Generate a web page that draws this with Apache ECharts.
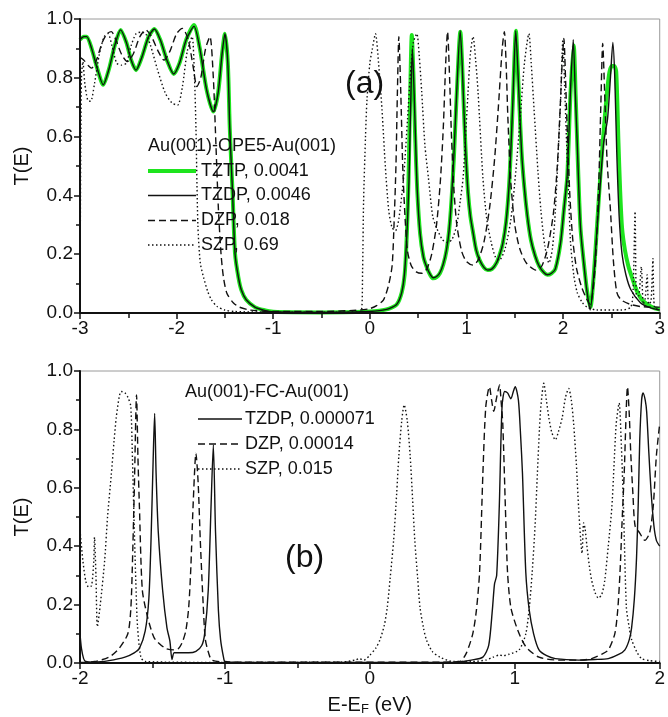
<!DOCTYPE html>
<html><head><meta charset="utf-8">
<script src="https://cdn.jsdelivr.net/npm/echarts@6/dist/echarts.min.js"></script>
<style>html,body{margin:0;padding:0;background:#fff}#c{width:668px;height:717px}</style>
</head><body><div id="c"></div>
<script>
// ---- Panel (a): Au(001)-OPE5-Au(001) ----
const aXTicks = [-3,-2,-1,0,1,2,3];
const yTicks = [0,0.2,0.4,0.6,0.8,1.0];
const aNames = ['TZTP, 0.0041','TZDP, 0.0046','DZP, 0.018','SZP, 0.69'];
const aTitle = 'Au(001)-OPE5-Au(001)';
const aTZTP = [[-3.00,0.93],[-2.96,0.94],[-2.93,0.94],[-2.88,0.90],[-2.82,0.83],[-2.76,0.776],[-2.70,0.83],[-2.64,0.91],[-2.58,0.963],[-2.52,0.92],[-2.47,0.86],[-2.42,0.826],[-2.36,0.87],[-2.29,0.94],[-2.23,0.966],[-2.17,0.93],[-2.10,0.86],[-2.03,0.813],[-1.97,0.85],[-1.90,0.93],[-1.82,0.98],[-1.76,0.90],[-1.69,0.76],[-1.62,0.685],[-1.57,0.75],[-1.53,0.88],[-1.50,0.95],[-1.47,0.85],[-1.45,0.63],[-1.42,0.40],[-1.395,0.20],[-1.36,0.12],[-1.33,0.078],[-1.28,0.045],[-1.19,0.02],[-1.10,0.01],[-1.00,0.004],[-0.5,0.002],[0,0.005],[0.10,0.008],[0.20,0.015],[0.28,0.03],[0.33,0.07],[0.36,0.13],[0.383,0.27],[0.40,0.45],[0.415,0.70],[0.434,0.946],[0.45,0.82],[0.468,0.61],[0.49,0.42],[0.52,0.27],[0.555,0.19],[0.59,0.155],[0.627,0.128],[0.657,0.118],[0.69,0.122],[0.725,0.135],[0.76,0.165],[0.794,0.214],[0.82,0.28],[0.845,0.384],[0.87,0.53],[0.896,0.724],[0.937,0.957],[0.955,0.85],[0.97,0.72],[0.99,0.56],[1.016,0.41],[1.04,0.33],[1.07,0.27],[1.10,0.215],[1.136,0.18],[1.18,0.155],[1.22,0.146],[1.265,0.15],[1.31,0.17],[1.345,0.20],[1.376,0.237],[1.41,0.31],[1.44,0.43],[1.46,0.56],[1.48,0.72],[1.512,0.96],[1.53,0.84],[1.546,0.72],[1.57,0.55],[1.598,0.43],[1.63,0.33],[1.666,0.25],[1.71,0.195],[1.752,0.16],[1.80,0.138],[1.838,0.13],[1.88,0.135],[1.92,0.15],[1.974,0.24],[2.008,0.35],[2.043,0.464],[2.077,0.75],[2.11,0.91],[2.13,0.74],[2.146,0.58],[2.18,0.29],[2.23,0.124],[2.255,0.06],[2.283,0.02],[2.316,0.124],[2.35,0.29],[2.385,0.464],[2.42,0.62],[2.454,0.75],[2.48,0.82],[2.505,0.84],[2.53,0.84],[2.55,0.82],[2.573,0.58],[2.59,0.42],[2.61,0.29],[2.64,0.214],[2.675,0.16],[2.71,0.124],[2.77,0.07],[2.83,0.04],[2.92,0.02],[3.0,0.012]];
const aTZDP = [[-3.00,0.93],[-2.96,0.94],[-2.93,0.94],[-2.88,0.90],[-2.82,0.83],[-2.76,0.776],[-2.70,0.83],[-2.64,0.91],[-2.58,0.963],[-2.52,0.92],[-2.47,0.86],[-2.42,0.826],[-2.36,0.87],[-2.29,0.94],[-2.23,0.966],[-2.17,0.93],[-2.10,0.86],[-2.03,0.813],[-1.97,0.85],[-1.90,0.93],[-1.82,0.975],[-1.76,0.90],[-1.69,0.76],[-1.62,0.685],[-1.57,0.75],[-1.53,0.88],[-1.50,0.95],[-1.47,0.85],[-1.45,0.63],[-1.42,0.40],[-1.395,0.20],[-1.36,0.12],[-1.33,0.078],[-1.28,0.045],[-1.19,0.02],[-1.10,0.01],[-1.00,0.004],[-0.5,0.002],[0,0.005],[0.10,0.008],[0.20,0.015],[0.28,0.03],[0.33,0.07],[0.36,0.14],[0.385,0.28],[0.405,0.45],[0.422,0.70],[0.44,0.90],[0.455,0.78],[0.472,0.60],[0.49,0.42],[0.52,0.27],[0.555,0.19],[0.59,0.155],[0.627,0.13],[0.657,0.12],[0.69,0.124],[0.725,0.137],[0.76,0.167],[0.794,0.216],[0.82,0.28],[0.845,0.39],[0.87,0.54],[0.896,0.73],[0.935,0.96],[0.955,0.85],[0.97,0.72],[0.99,0.56],[1.016,0.41],[1.04,0.33],[1.07,0.27],[1.10,0.215],[1.136,0.18],[1.18,0.155],[1.22,0.146],[1.265,0.15],[1.31,0.17],[1.345,0.20],[1.376,0.237],[1.41,0.31],[1.44,0.43],[1.46,0.56],[1.48,0.72],[1.51,0.96],[1.53,0.84],[1.546,0.72],[1.57,0.55],[1.598,0.43],[1.63,0.33],[1.666,0.25],[1.71,0.195],[1.752,0.16],[1.80,0.138],[1.838,0.13],[1.88,0.135],[1.92,0.15],[1.974,0.24],[2.008,0.35],[2.043,0.47],[2.077,0.76],[2.105,0.93],[2.125,0.76],[2.146,0.58],[2.18,0.29],[2.23,0.12],[2.255,0.055],[2.28,0.01],[2.316,0.12],[2.35,0.28],[2.385,0.44],[2.42,0.58],[2.46,0.66],[2.49,0.80],[2.515,0.92],[2.535,0.80],[2.555,0.55],[2.58,0.33],[2.61,0.20],[2.65,0.13],[2.70,0.08],[2.80,0.035],[2.90,0.018],[3.0,0.01]];
const aDZP = [[-3.00,0.87],[-2.96,0.86],[-2.91,0.84],[-2.88,0.833],[-2.83,0.86],[-2.77,0.92],[-2.72,0.95],[-2.675,0.957],[-2.63,0.93],[-2.57,0.88],[-2.51,0.855],[-2.45,0.88],[-2.38,0.94],[-2.32,0.963],[-2.26,0.94],[-2.19,0.89],[-2.13,0.86],[-2.07,0.89],[-2.00,0.95],[-1.94,0.968],[-1.88,0.93],[-1.83,0.84],[-1.79,0.77],[-1.75,0.80],[-1.70,0.90],[-1.655,0.94],[-1.62,0.80],[-1.60,0.634],[-1.567,0.35],[-1.54,0.20],[-1.516,0.123],[-1.48,0.067],[-1.414,0.035],[-1.35,0.02],[-1.24,0.01],[-1.0,0.005],[-0.5,0.005],[-0.1,0.01],[0.0,0.015],[0.07,0.025],[0.14,0.044],[0.19,0.09],[0.23,0.16],[0.25,0.30],[0.27,0.50],[0.285,0.75],[0.30,0.94],[0.32,0.75],[0.34,0.50],[0.365,0.32],[0.39,0.21],[0.43,0.16],[0.48,0.14],[0.537,0.135],[0.59,0.15],[0.64,0.20],[0.69,0.30],[0.73,0.45],[0.76,0.63],[0.785,0.85],[0.804,0.957],[0.825,0.80],[0.845,0.60],[0.87,0.42],[0.90,0.30],[0.95,0.21],[1.00,0.175],[1.068,0.163],[1.12,0.18],[1.18,0.24],[1.24,0.36],[1.29,0.52],[1.33,0.70],[1.37,0.90],[1.392,0.957],[1.41,0.85],[1.43,0.65],[1.46,0.44],[1.50,0.30],[1.55,0.22],[1.62,0.17],[1.718,0.146],[1.78,0.16],[1.84,0.22],[1.90,0.34],[1.94,0.50],[1.97,0.70],[1.99,0.85],[2.008,0.934],[2.025,0.80],[2.045,0.60],[2.07,0.40],[2.10,0.25],[2.14,0.15],[2.19,0.09],[2.24,0.05],[2.28,0.03],[2.31,0.08],[2.34,0.20],[2.37,0.45],[2.39,0.70],[2.41,0.917],[2.43,0.75],[2.455,0.52],[2.49,0.35],[2.52,0.18],[2.556,0.07],[2.60,0.045],[2.69,0.03],[2.80,0.022],[2.94,0.02],[3.0,0.02]];
const aSZP = [[-3.00,0.0],[-2.995,0.40],[-2.985,0.80],[-2.97,0.855],[-2.95,0.78],[-2.92,0.724],[-2.89,0.72],[-2.85,0.78],[-2.80,0.88],[-2.75,0.94],[-2.71,0.95],[-2.67,0.91],[-2.62,0.85],[-2.57,0.843],[-2.52,0.85],[-2.47,0.91],[-2.42,0.95],[-2.37,0.955],[-2.32,0.95],[-2.27,0.91],[-2.20,0.83],[-2.12,0.75],[-2.05,0.715],[-1.99,0.707],[-1.94,0.77],[-1.89,0.89],[-1.84,0.94],[-1.815,0.80],[-1.80,0.63],[-1.78,0.30],[-1.755,0.17],[-1.72,0.12],[-1.68,0.075],[-1.64,0.045],[-1.58,0.022],[-1.50,0.01],[-1.40,0.005],[-1.0,0.003],[-0.3,0.003],[-0.09,0.005],[-0.075,0.15],[-0.065,0.38],[-0.045,0.60],[-0.03,0.724],[0.0,0.85],[0.024,0.895],[0.058,0.95],[0.09,0.85],[0.126,0.69],[0.16,0.50],[0.195,0.35],[0.23,0.29],[0.265,0.28],[0.30,0.32],[0.35,0.464],[0.39,0.66],[0.417,0.80],[0.45,0.92],[0.486,0.95],[0.51,0.88],[0.537,0.75],[0.57,0.57],[0.606,0.46],[0.65,0.33],[0.69,0.29],[0.75,0.25],[0.80,0.24],[0.85,0.25],[0.90,0.30],[0.935,0.38],[0.965,0.46],[0.99,0.60],[1.016,0.75],[1.04,0.88],[1.068,0.94],[1.095,0.86],[1.12,0.75],[1.17,0.46],[1.21,0.32],[1.256,0.24],[1.30,0.19],[1.34,0.18],[1.40,0.22],[1.46,0.32],[1.51,0.48],[1.56,0.68],[1.60,0.85],[1.646,0.95],[1.67,0.85],[1.70,0.69],[1.74,0.48],[1.77,0.35],[1.81,0.23],[1.854,0.17],[1.89,0.22],[1.92,0.35],[1.95,0.55],[1.974,0.72],[1.998,0.93],[2.015,0.78],[2.036,0.58],[2.06,0.38],[2.077,0.24],[2.11,0.13],[2.146,0.07],[2.20,0.035],[2.25,0.02],[2.35,0.01],[2.60,0.01],[2.70,0.02],[2.725,0.08],[2.745,0.345],[2.76,0.05],[2.785,0.06],[2.81,0.157],[2.83,0.03],[2.85,0.05],[2.87,0.13],[2.885,0.03],[2.91,0.04],[2.93,0.185],[2.945,0.02],[3.0,0.01]];

// ---- Panel (b): Au(001)-FC-Au(001) ----
const bXTicks = [-2,-1,0,1,2];
const bNames = ['TZDP, 0.000071','DZP, 0.00014','SZP, 0.015'];
const bTitle = 'Au(001)-FC-Au(001)';
const bTZDP = [[-2.0,0.10],[-1.99,0.05],[-1.975,0.015],[-1.96,0.005],[-1.9,0.003],[-1.8,0.008],[-1.69,0.02],[-1.626,0.035],[-1.59,0.05],[-1.55,0.11],[-1.525,0.22],[-1.51,0.42],[-1.495,0.70],[-1.485,0.855],[-1.475,0.65],[-1.46,0.45],[-1.43,0.25],[-1.40,0.12],[-1.38,0.076],[-1.365,0.012],[-1.35,0.035],[-1.30,0.035],[-1.25,0.035],[-1.20,0.04],[-1.16,0.06],[-1.14,0.10],[-1.115,0.25],[-1.095,0.55],[-1.08,0.747],[-1.065,0.45],[-1.045,0.18],[-1.03,0.08],[-1.01,0.02],[-1.0,0.005],[-0.9,0.002],[0.5,0.002],[0.62,0.004],[0.70,0.01],[0.78,0.02],[0.82,0.06],[0.845,0.18],[0.86,0.27],[0.875,0.30],[0.893,0.535],[0.912,0.878],[0.93,0.93],[0.95,0.925],[0.973,0.905],[0.99,0.93],[1.003,0.946],[1.025,0.90],[1.04,0.78],[1.053,0.65],[1.076,0.31],[1.10,0.18],[1.13,0.10],[1.167,0.045],[1.22,0.025],[1.28,0.015],[1.44,0.01],[1.55,0.012],[1.645,0.015],[1.72,0.03],[1.76,0.045],[1.79,0.08],[1.806,0.12],[1.825,0.22],[1.84,0.36],[1.852,0.55],[1.862,0.76],[1.875,0.90],[1.885,0.925],[1.90,0.90],[1.91,0.86],[1.925,0.72],[1.94,0.59],[1.96,0.47],[1.977,0.42],[2.0,0.40]];
const bDZP = [[-2.0,0.002],[-1.9,0.005],[-1.8,0.02],[-1.73,0.05],[-1.67,0.10],[-1.65,0.18],[-1.64,0.31],[-1.625,0.60],[-1.61,0.918],[-1.60,0.70],[-1.59,0.535],[-1.57,0.25],[-1.535,0.16],[-1.50,0.10],[-1.48,0.08],[-1.41,0.05],[-1.35,0.045],[-1.32,0.05],[-1.295,0.07],[-1.27,0.11],[-1.25,0.19],[-1.235,0.33],[-1.22,0.535],[-1.20,0.718],[-1.185,0.62],[-1.17,0.42],[-1.15,0.20],[-1.135,0.08],[-1.11,0.03],[-1.09,0.01],[-1.0,0.003],[0.5,0.003],[0.62,0.005],[0.665,0.033],[0.71,0.10],[0.735,0.18],[0.757,0.31],[0.78,0.65],[0.80,0.878],[0.825,0.946],[0.84,0.90],[0.855,0.862],[0.875,0.91],[0.895,0.952],[0.905,0.90],[0.917,0.82],[0.935,0.535],[0.95,0.31],[0.973,0.19],[1.02,0.113],[1.076,0.056],[1.167,0.02],[1.30,0.01],[1.45,0.01],[1.53,0.015],[1.60,0.03],[1.646,0.045],[1.69,0.10],[1.71,0.18],[1.726,0.31],[1.74,0.48],[1.755,0.65],[1.778,0.946],[1.79,0.85],[1.80,0.72],[1.815,0.58],[1.83,0.47],[1.862,0.445],[1.897,0.42],[1.93,0.445],[1.955,0.535],[1.977,0.71],[2.0,0.82]];
const bSZP = [[-2.0,0.455],[-1.98,0.35],[-1.96,0.28],[-1.94,0.26],[-1.92,0.265],[-1.905,0.35],[-1.90,0.43],[-1.89,0.30],[-1.88,0.124],[-1.86,0.20],[-1.83,0.35],[-1.81,0.50],[-1.785,0.64],[-1.765,0.76],[-1.75,0.84],[-1.73,0.91],[-1.716,0.93],[-1.69,0.925],[-1.67,0.91],[-1.65,0.88],[-1.638,0.70],[-1.626,0.47],[-1.615,0.28],[-1.603,0.124],[-1.58,0.02],[-1.55,0.005],[-1.0,0.002],[-0.2,0.003],[-0.1,0.01],[-0.075,0.015],[-0.04,0.01],[0.0,0.027],[0.04,0.05],[0.07,0.08],[0.10,0.13],[0.12,0.19],[0.14,0.29],[0.164,0.42],[0.185,0.58],[0.20,0.71],[0.22,0.83],[0.237,0.884],[0.258,0.83],[0.278,0.71],[0.295,0.56],[0.31,0.42],[0.33,0.29],[0.346,0.19],[0.37,0.12],[0.39,0.08],[0.43,0.04],[0.483,0.02],[0.575,0.005],[0.70,0.005],[0.80,0.01],[0.85,0.02],[0.893,0.027],[0.92,0.025],[0.96,0.03],[1.03,0.045],[1.076,0.10],[1.10,0.19],[1.12,0.31],[1.14,0.47],[1.156,0.65],[1.17,0.80],[1.18,0.878],[1.20,0.958],[1.218,0.90],[1.235,0.84],[1.255,0.79],[1.28,0.764],[1.30,0.79],[1.327,0.84],[1.35,0.91],[1.372,0.94],[1.39,0.90],[1.406,0.82],[1.425,0.68],[1.44,0.535],[1.455,0.42],[1.464,0.375],[1.475,0.48],[1.485,0.46],[1.498,0.40],[1.515,0.33],[1.53,0.284],[1.555,0.24],[1.577,0.222],[1.60,0.235],[1.62,0.28],[1.645,0.40],[1.67,0.535],[1.685,0.68],[1.70,0.82],[1.72,0.89],[1.735,0.75],[1.75,0.535],[1.77,0.19],[1.79,0.12],[1.806,0.08],[1.84,0.04],[1.875,0.015],[1.93,0.008],[2.0,0.005]];

const FONT = 'Liberation Sans, Arial, Helvetica, sans-serif';
const GREEN = '#1ee41e';
const styles = {
  green: {color: GREEN, width: 4, type: 'solid'},
  solid: {color: '#111', width: 1.4, type: 'solid'},
  dash:  {color: '#111', width: 1.4, type: [7, 4]},
  dot:   {color: '#111', width: 1.4, type: [1.5, 2.5]}
};
const aStyles = [styles.green, styles.solid, styles.dash, styles.dot];
const bStyles = [styles.solid, styles.dash, styles.dot];

function mkSeries(name, data, st, idx){
  return {type: 'line', name: name, data: data, xAxisIndex: idx, yAxisIndex: idx,
    symbol: 'none', smooth: 0.25, lineStyle: Object.assign({}, st), itemStyle: {color: st.color},
    emphasis: {disabled: true}, animation: false, silent: true};
}
function xAx(idx, min, max, ticks, name){
  return {type: 'value', gridIndex: idx, min: min, max: max, interval: 1, z: 5,
    axisLine: {show: true, onZero: false, lineStyle: {color: '#111', width: 2}},
    axisTick: {show: true, inside: false, length: 6, lineStyle: {color: '#111', width: 1.5}},
    minorTick: {show: true, splitNumber: 2, length: 5, lineStyle: {color: '#111', width: 1.5}},
    splitLine: {show: false},
    axisLabel: {show: true, color: '#111', fontSize: 19, fontFamily: FONT, margin: 6,
      formatter: v => ticks.indexOf(v) >= 0 ? String(v) : ''},
    name: name || '', nameLocation: 'middle', nameGap: 31,
    nameTextStyle: {color: '#111', fontSize: 20, fontFamily: FONT,
      rich: {a: {fontSize: 20, fontFamily: FONT, color: '#111'}, s: {fontSize: 13, fontFamily: FONT, color: '#111', verticalAlign: 'bottom', padding: [9,0,0,0]}}}
  };
}
function yAx(idx){
  return {type: 'value', gridIndex: idx, min: 0, max: 1, interval: 0.2, z: 5,
    axisLine: {show: true, onZero: false, lineStyle: {color: '#111', width: 2}},
    axisTick: {show: true, inside: false, length: 6, lineStyle: {color: '#111', width: 1.5}},
    minorTick: {show: true, splitNumber: 2, length: 4, lineStyle: {color: '#111', width: 1.5}},
    splitLine: {show: false},
    axisLabel: {show: true, color: '#111', fontSize: 19, fontFamily: FONT, margin: 7,
      formatter: v => yTicks.some(t => Math.abs(t - v) < 1e-9) ? v.toFixed(1) : ''},
    name: 'T(E)', nameLocation: 'middle', nameGap: 48, nameRotate: 90,
    nameTextStyle: {color: '#111', fontSize: 20, fontFamily: FONT}
  };
}
// legend built from the names and styles
function legendGraphics(names, sts, x1, x2, tx, rows){
  const out = [];
  names.forEach((n, i) => {
    const st = sts[i];
    out.push({type: 'line', silent: true, z: 10,
      shape: {x1: x1, y1: rows[i], x2: x2, y2: rows[i]},
      style: {stroke: st.color, lineWidth: st.width, lineDash: Array.isArray(st.type) ? st.type : null}});
    out.push({type: 'text', silent: true, z: 10, x: tx, y: rows[i],
      style: {text: n, fill: '#111', font: '18px ' + FONT, verticalAlign: 'middle', textAlign: 'left'}});
  });
  return out;
}
const chart = echarts.init(document.getElementById('c'), null, {renderer: 'canvas'});
chart.setOption({
  animation: false,
  backgroundColor: '#fff',
  grid: [
    {left: 80, top: 19, width: 585, height: 294, show: true, borderColor: '#9a9a9a', borderWidth: 1, backgroundColor: 'transparent'},
    {left: 80, top: 371, width: 585, height: 292, show: true, borderColor: '#9a9a9a', borderWidth: 1, backgroundColor: 'transparent'}
  ],
  xAxis: [xAx(0, -3, 3, aXTicks), xAx(1, -2, 2, bXTicks, '{a|E-E}{s|F}{a| (eV)}')],
  yAxis: [yAx(0), yAx(1)],
  graphic: [
    {type: 'text', silent: true, z: 10, x: 148, y: 146, style: {text: aTitle, fill: '#111', font: '18px ' + FONT, verticalAlign: 'middle'}},
    {type: 'text', silent: true, z: 10, x: 185, y: 392, style: {text: bTitle, fill: '#111', font: '18px ' + FONT, verticalAlign: 'middle'}},
    {type: 'text', silent: true, z: 10, x: 345, y: 84, style: {text: '(a)', fill: '#111', font: '32px ' + FONT, verticalAlign: 'middle'}},
    {type: 'text', silent: true, z: 10, x: 285, y: 558, style: {text: '(b)', fill: '#111', font: '32px ' + FONT, verticalAlign: 'middle'}}
  ].concat(
    legendGraphics(aNames, aStyles, 148, 196, 201, [171, 195.5, 220.5, 245]),
    legendGraphics(bNames, bStyles, 198, 242, 245, [419, 444, 469])
  ),
  series: [
    mkSeries(aNames[0], aTZTP, styles.green, 0),
    mkSeries(aNames[1], aTZDP, styles.solid, 0),
    mkSeries(aNames[2], aDZP, styles.dash, 0),
    mkSeries(aNames[3], aSZP, styles.dot, 0),
    mkSeries(bNames[0], bTZDP, styles.solid, 1),
    mkSeries(bNames[1], bDZP, styles.dash, 1),
    mkSeries(bNames[2], bSZP, styles.dot, 1)
  ]
});
</script></body></html>
